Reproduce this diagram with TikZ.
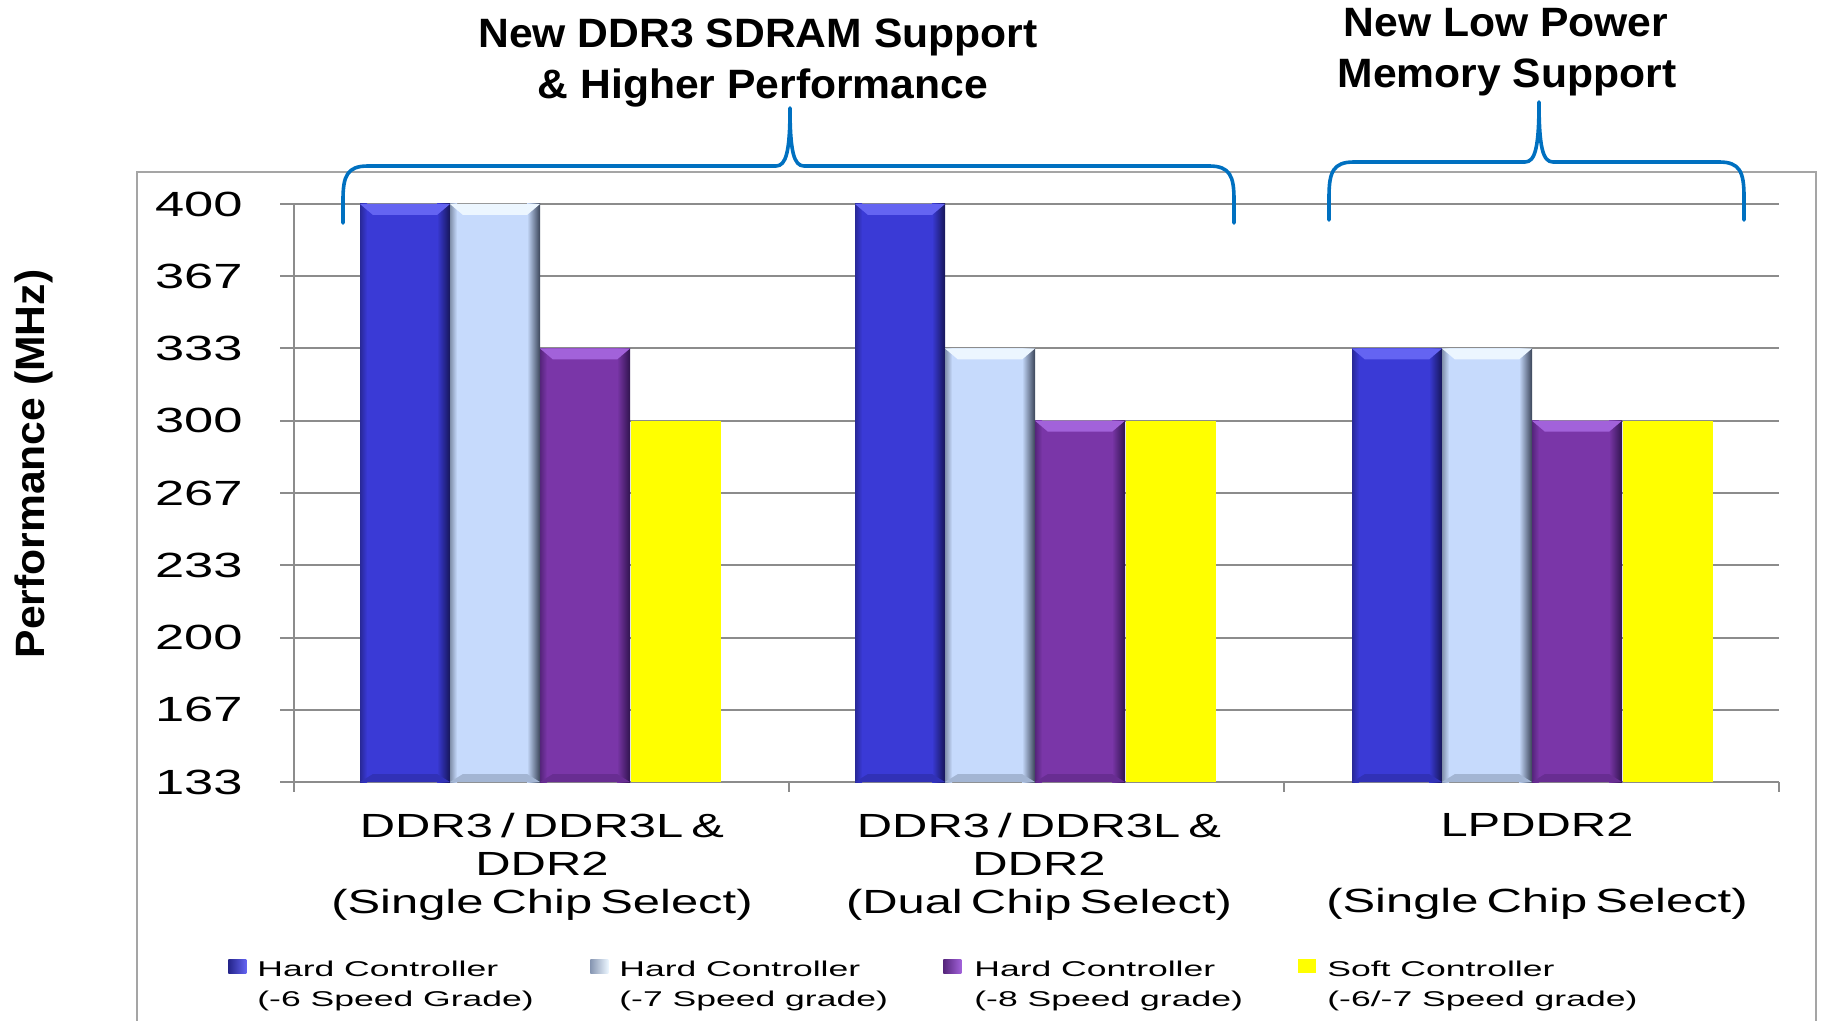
\documentclass[tikz,border=0pt]{standalone}
\usepackage{fontspec}
\usepackage{graphicx}
\setmainfont{Liberation Sans}
\newfontfamily\headfam[FakeStretch=1.04]{Liberation Sans}
\newfontfamily\tickfam[FakeStretch=1.5]{Liberation Sans}
\newfontfamily\catfam[FakeStretch=1.46,WordSpace=0.6]{Liberation Sans}
\newfontfamily\legfam[FakeStretch=1.66]{Liberation Sans}
\newcommand{\headfont}{\headfam\bfseries\fontsize{20.5}{25}\selectfont}
\newcommand{\tickfont}{\tickfam\fontsize{17.5}{21}\selectfont}
\newcommand{\catfont}{\catfam\fontsize{16.75}{19}\selectfont}
\newcommand{\legfont}{\legfam\fontsize{10.7}{15}\selectfont}

\definecolor{barblue}{RGB}{58,58,214}
\definecolor{barbluehi}{RGB}{100,100,242}
\definecolor{barbluedk}{RGB}{22,22,88}
\definecolor{barlight}{RGB}{198,218,252}
\definecolor{barlighthi}{RGB}{236,246,255}
\definecolor{barlightdk}{RGB}{58,68,88}
\definecolor{barpurple}{RGB}{122,54,168}
\definecolor{barpurplehi}{RGB}{162,98,218}
\definecolor{barpurpledk}{RGB}{48,20,78}
\definecolor{baryellow}{RGB}{255,255,0}
\definecolor{bracecol}{RGB}{0,112,192}
\definecolor{gridcol}{RGB}{140,140,140}
\definecolor{framecol}{RGB}{165,165,165}

% one bevelled bar: #1 left edge, #2 top edge, #3 colour family
\newcommand{\bevelbar}[3]{%
  \fill[#3] (#1,#2) rectangle ({#1+90},782);
  \shade[left color=#3dk!50!#3, right color=#3] (#1,#2) rectangle ({#1+7},782);
  \shade[left color=#3, right color=#3dk] ({#1+77},#2) rectangle ({#1+90},782);
  \fill[#3hi] (#1,#2) -- ({#1+90},#2) -- ({#1+77},{#2+11}) -- ({#1+13},{#2+11}) -- cycle;
  \fill[#3dk!25!#3] (#1,782) -- ({#1+90},782) -- ({#1+77},774) -- ({#1+13},774) -- cycle;
}

\begin{document}
\begin{tikzpicture}[x=0.5pt, y=-0.5pt,
  gridline/.style={draw=gridcol, line width=1pt},
  frameline/.style={draw=framecol, line width=1pt},
  braceline/.style={draw=bracecol, line width=1.8pt, line cap=round, line join=round},
  ticklabel/.style={font=\tickfont, inner sep=0pt, anchor=east},
  catlabel/.style={font=\catfont, align=center, inner sep=0pt, anchor=north},
  legendtext/.style={font=\legfont, align=left, inner sep=0pt, anchor=north west},
  legendmark/.style={minimum width=9pt, minimum height=7pt, inner sep=0pt, anchor=north west},
  headline/.style={font=\headfont, inner sep=0pt, anchor=base},
]
\useasboundingbox (0,0) rectangle (1826,1021);

% chart frame
\draw[frameline] (137,1021) -- (137,172) -- (1816,172) -- (1816,1021);

% grid, axes and ticks
\foreach \lvl in {0,...,8} {
  \draw[gridline] (280,{782-72.25*\lvl}) -- (1779,{782-72.25*\lvl});
}
\draw[gridline] (294,204) -- (294,792);
\foreach \tx in {789,1284,1779} {
  \draw[gridline] (\tx,782) -- (\tx,792);
}

% tick labels
\node[ticklabel] (v400) at (243,204) {400};
\node[ticklabel] (v367) at (243,276.25) {367};
\node[ticklabel] (v333) at (243,348.5) {333};
\node[ticklabel] (v300) at (243,420.75) {300};
\node[ticklabel] (v267) at (243,493) {267};
\node[ticklabel] (v233) at (243,565.25) {233};
\node[ticklabel] (v200) at (243,637.5) {200};
\node[ticklabel] (v167) at (243,709.75) {167};
\node[ticklabel] (v133) at (243,782) {133};

% bars, group 1
\bevelbar{360}{204}{barblue}
\bevelbar{450}{204}{barlight}
\bevelbar{540}{348.5}{barpurple}
\fill[baryellow] (631,420.75) rectangle (721,782);
% bars, group 2
\bevelbar{855}{204}{barblue}
\bevelbar{945}{348.5}{barlight}
\bevelbar{1035}{420.75}{barpurple}
\fill[baryellow] (1126,420.75) rectangle (1216,782);
% bars, group 3
\bevelbar{1352}{348.5}{barblue}
\bevelbar{1442}{348.5}{barlight}
\bevelbar{1532}{420.75}{barpurple}
\fill[baryellow] (1623,420.75) rectangle (1713,782);

% category labels
\node[catlabel] (cat1) at (542,813) {DDR3 / DDR3L \&\\DDR2\\(Single Chip Select)};
\node[catlabel] (cat2) at (1039,813) {DDR3 / DDR3L \&\\DDR2\\(Dual Chip Select)};
\node[catlabel] (cat3) at (1537,813) {LPDDR2\\\mbox{}\\(Single Chip Select)};

% legend
\node[legendmark, left color=barbluedk!60!barblue, right color=barbluehi] (mk1) at (228,959) {};
\node[legendtext] (lg1) at (257,961) {Hard Controller\\(-6 Speed Grade)};
\node[legendmark, left color=barlightdk!45!barlight, right color=barlighthi] (mk2) at (590,959) {};
\node[legendtext] (lg2) at (619,961) {Hard Controller\\(-7 Speed grade)};
\node[legendmark, left color=barpurpledk!50!barpurple, right color=barpurplehi] (mk3) at (943,959) {};
\node[legendtext] (lg3) at (974,961) {Hard Controller\\(-8 Speed grade)};
\node[legendmark, fill=baryellow] (mk4) at (1298,959) {};
\node[legendtext] (lg4) at (1327,961) {Soft Controller\\(-6/-7 Speed grade)};

% axis title
\node[font=\headfont, inner sep=0pt, rotate=90] (ytitle) at (34,464) {Performance (MHz)};

% headlines
\node[headline] (h1a) at (758,48) {New DDR3 SDRAM Support};
\node[headline] (h1b) at (763,99) {\& Higher Performance};
\node[headline] (h2a) at (1506,37) {New Low Power};
\node[headline] (h2b) at (1507,88) {Memory Support};

% braces
\draw[braceline] (343,223) -- (343,200) .. controls (343,176) and (347,166) .. (368,166)
  -- (776,166) .. controls (786,166) and (790,152) .. (790,108)
  .. controls (790,152) and (794,166) .. (804,166)
  -- (1209,166) .. controls (1230,166) and (1234,176) .. (1234,200) -- (1234,223);
\draw[braceline] (1329,220) -- (1329,197) .. controls (1329,172) and (1333,162) .. (1354,162)
  -- (1525,162) .. controls (1535,162) and (1539,148) .. (1539,102)
  .. controls (1539,148) and (1543,162) .. (1553,162)
  -- (1719,162) .. controls (1740,162) and (1744,172) .. (1744,197) -- (1744,220);
\end{tikzpicture}
\end{document}
